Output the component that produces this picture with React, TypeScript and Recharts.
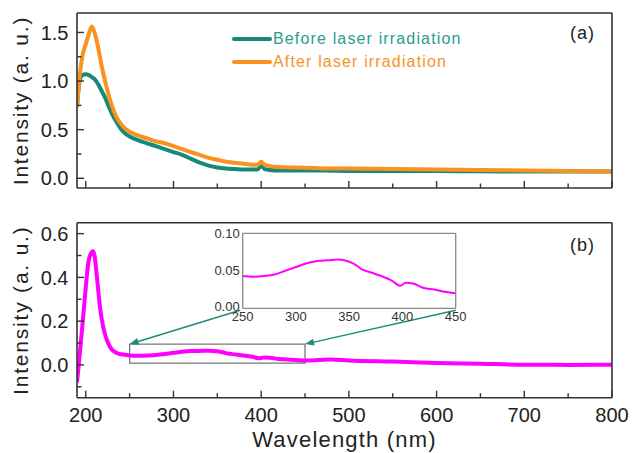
import React from 'react';
import { LineChart, Line, XAxis, YAxis, ReferenceArea, ReferenceLine, Legend } from 'recharts';

// wavelength grid (nm) for panel (a)
const topWavelengths = [
  190, 193, 196, 200, 204, 207, 210, 214, 218, 222,
  226, 230, 235, 240, 245, 250, 260, 270, 280, 290,
  300, 310, 320, 330, 340, 350, 360, 370, 380, 390,
  396, 400, 404, 410, 420, 440, 460, 480, 500, 550,
  600, 650, 700, 750, 800,
];
const beforeIrradiation = [
  0.74, 1.0, 1.06, 1.07, 1.06, 1.04, 1.02, 0.97, 0.9, 0.83,
  0.74, 0.66, 0.58, 0.51, 0.46, 0.43, 0.39, 0.36, 0.33, 0.3,
  0.27, 0.24, 0.2, 0.16, 0.13, 0.11, 0.1, 0.095, 0.09, 0.09,
  0.09, 0.13, 0.095, 0.085, 0.08, 0.08, 0.08, 0.078, 0.076, 0.075,
  0.074, 0.072, 0.07, 0.07, 0.07,
];
const afterIrradiation = [
  0.73, 1.05, 1.25, 1.38, 1.5, 1.56, 1.5, 1.35, 1.16, 1.0,
  0.86, 0.74, 0.63, 0.56, 0.51, 0.48, 0.44, 0.41, 0.38, 0.36,
  0.33, 0.3, 0.27, 0.24, 0.21, 0.19, 0.17, 0.16, 0.15, 0.14,
  0.14, 0.17, 0.14, 0.125, 0.115, 0.11, 0.105, 0.1, 0.1, 0.095,
  0.09, 0.085, 0.08, 0.075, 0.07,
];

// wavelength grid (nm) for panel (b), difference spectrum
const bottomWavelengths = [
  190, 192, 195, 199, 203, 206, 208, 210, 212, 214,
  216, 220, 224, 228, 232, 238, 245, 250, 260, 270,
  280, 290, 300, 310, 320, 330, 340, 350, 356, 362,
  370, 380, 390, 398, 403, 410, 420, 430, 440, 450,
  465, 480, 500, 550, 600, 650, 700, 750, 800,
];
const differenceSpectrum = [
  -0.08, 0.0, 0.13, 0.31, 0.47, 0.51, 0.52, 0.5, 0.43, 0.35,
  0.27, 0.17, 0.115, 0.08, 0.062, 0.05, 0.046, 0.043, 0.042, 0.043,
  0.045, 0.05, 0.055, 0.06, 0.063, 0.064, 0.065, 0.062, 0.058, 0.052,
  0.048, 0.043, 0.037, 0.03, 0.034, 0.033, 0.027, 0.025, 0.022, 0.02,
  0.022, 0.025, 0.02, 0.015, 0.009, 0.005, 0.001, 0.0, 0.001,
];

const xTicks = [200, 250, 300, 350, 400, 450, 500, 550, 600, 650, 700, 750, 800];
const topYTicks = [0, 0.25, 0.5, 0.75, 1.0, 1.25, 1.5];
const topYLabels = [0, 0.5, 1.0, 1.5];
const bottomYTicks = [-0.1, 0, 0.1, 0.2, 0.3, 0.4, 0.5, 0.6];
const bottomYLabels = [0, 0.2, 0.4, 0.6];
const insetXTicks = [250, 300, 350, 400, 450];
const insetYTicks = [0, 0.05, 0.1];

const FONT = '"Liberation Sans", Arial, sans-serif';
const AXIS = '#333';
const TEAL = '#17897b';
const ORANGE = '#f7931e';
const MAGENTA = '#ff00ff';
const ARROW = '#1f8a7e';
const legendText: Record<string, string> = { before: '#2b9c8e', after: '#f7941d' };
const legendOrder = ['before', 'after'];

const topRows = topWavelengths.map((w, i) => ({ w, before: beforeIrradiation[i], after: afterIrradiation[i] }));
const bottomRows = bottomWavelengths.map((w, i) => ({ w, diff: differenceSpectrum[i] }));
const insetRows = bottomRows.filter((r) => r.w >= 250 && r.w <= 450);

const XTick = ({ x, y, payload, showLabel }: any) => {
  const major = payload.value % 100 === 0;
  return (
    <g>
      <line x1={x} x2={x} y1={y} y2={y - (major ? 7 : 4.5)} stroke={AXIS} strokeWidth={1.4} />
      {showLabel && major && (
        <text x={x} y={y + 24.6} textAnchor="middle" fontSize={20} fill="#222" fontFamily={FONT}>
          {payload.value}
        </text>
      )}
    </g>
  );
};

const YTick = ({ x, y, payload, labels }: any) => {
  const major = labels.some((v: number) => Math.abs(v - payload.value) < 1e-6);
  return (
    <g>
      <line x1={x} x2={x + (major ? 7 : 4.5)} y1={y} y2={y} stroke={AXIS} strokeWidth={1.4} />
      {major && (
        <text x={x - 8.5} y={y} dy="0.36em" textAnchor="end" fontSize={20} fill="#222" fontFamily={FONT}>
          {payload.value.toFixed(1)}
        </text>
      )}
    </g>
  );
};

const YTitle = (p: any) => {
  const x = p.viewBox.x - 48;
  const y = p.viewBox.y + p.viewBox.height / 2;
  return (
    <text x={x} y={y} transform={`rotate(-90, ${x}, ${y})`} textAnchor="middle" fontSize={21}
      letterSpacing={1.8} fill="#222" fontFamily={FONT}>
      Intensity (a. u.)
    </text>
  );
};

const PanelTag = (tag: string, dy: number) => (p: any) => (
  <text x={p.viewBox.x + p.viewBox.width - 17} y={p.viewBox.y + dy} textAnchor="end" fontSize={18}
    letterSpacing={1} fill="#222" fontFamily={FONT}>
    {tag}
  </text>
);

const Arrow = (p: any) => {
  const { x1, y1, x2, y2 } = p;
  const a = Math.atan2(y2 - y1, x2 - x1);
  const len = 9;
  const half = 3.5;
  const bx = x2 - len * Math.cos(a);
  const by = y2 - len * Math.sin(a);
  const pts = `${x2},${y2} ${bx - half * Math.sin(a)},${by + half * Math.cos(a)} ${bx + half * Math.sin(a)},${by - half * Math.cos(a)}`;
  return (
    <g>
      <line x1={x1} y1={y1} x2={bx} y2={by} stroke={ARROW} strokeWidth={1.5} />
      <polygon points={pts} fill={ARROW} />
    </g>
  );
};

const LegendBox = ({ payload }: any) => {
  const items = [...(payload || [])].sort(
    (a: any, b: any) => legendOrder.indexOf(a.dataKey) - legendOrder.indexOf(b.dataKey),
  );
  return (
    <div style={{ fontFamily: FONT }}>
      {items.map((entry: any) => (
        <div key={entry.dataKey} style={{ display: 'flex', alignItems: 'center', height: 22.6 }}>
          <span style={{ display: 'inline-block', width: 40, height: 4, borderRadius: 2, background: entry.color }} />
          <span style={{ color: legendText[entry.dataKey], fontSize: 16, letterSpacing: 1.15, marginLeft: 1, whiteSpace: 'nowrap' }}>
            {entry.value}
          </span>
        </div>
      ))}
    </div>
  );
};

const frameLine = { stroke: AXIS, strokeWidth: 1.6 };
const insetLine = { stroke: '#888', strokeWidth: 1.3 };

const App: React.FC = () => {
  return (
    <div style={{ position: 'absolute', left: 0, top: 0, width: 632, height: 453, background: '#fff', fontFamily: FONT }}>
      {/* panel (a) */}
      <div style={{ position: 'absolute', left: 0, top: 0 }}>
        <LineChart width={632} height={196} data={topRows} margin={{ top: 12, right: 19, left: 76, bottom: 7 }}>
          <XAxis dataKey="w" type="number" domain={[190, 800]} allowDataOverflow ticks={xTicks} interval={0}
            height={1} tickSize={0} tickMargin={0} tickLine={false} axisLine={frameLine}
            tick={(p: any) => <XTick {...p} showLabel={false} />} />
          <XAxis xAxisId="frame" dataKey="w" type="number" domain={[190, 800]} allowDataOverflow orientation="top"
            height={1} tick={false} tickLine={false} axisLine={frameLine}
            label={{ content: PanelTag('(a)', 27) }} />
          <YAxis type="number" domain={[-0.1, 1.7]} allowDataOverflow ticks={topYTicks} interval={0} width={1}
            tickSize={0} tickMargin={0} tickLine={false} axisLine={frameLine}
            tick={(p: any) => <YTick {...p} labels={topYLabels} />} label={{ content: YTitle }} />
          <YAxis yAxisId="frame" orientation="right" type="number" domain={[-0.1, 1.7]} width={1}
            tick={false} tickLine={false} axisLine={frameLine} />
          <Legend layout="vertical" align="center" verticalAlign="middle" content={<LegendBox />}
            wrapperStyle={{ left: 232, top: 27.7, width: 300, height: 46 }} />
          <Line dataKey="before" name="Before laser irradiation" type="monotone" stroke={TEAL} strokeWidth={4}
            dot={false} isAnimationActive={false} />
          <Line dataKey="after" name="After laser irradiation" type="monotone" stroke={ORANGE} strokeWidth={4}
            dot={false} isAnimationActive={false} />
        </LineChart>
      </div>

      {/* panel (b) */}
      <div style={{ position: 'absolute', left: 0, top: 200 }}>
        <LineChart width={632} height={253} data={bottomRows} margin={{ top: 21.7, right: 19, left: 76, bottom: 54.3 }}>
          <XAxis dataKey="w" type="number" domain={[190, 800]} allowDataOverflow ticks={xTicks} interval={0}
            height={1} tickSize={0} tickMargin={0} tickLine={false} axisLine={frameLine}
            tick={(p: any) => <XTick {...p} showLabel />}
            label={{
              content: (p: any) => (
                <text x={p.viewBox.x + p.viewBox.width / 2} y={p.viewBox.y + 49} textAnchor="middle" fontSize={22}
                  letterSpacing={1.2} fill="#222" fontFamily={FONT}>
                  Wavelength (nm)
                </text>
              ),
            }} />
          <XAxis xAxisId="frame" dataKey="w" type="number" domain={[190, 800]} allowDataOverflow orientation="top"
            height={1} tick={false} tickLine={false} axisLine={frameLine}
            label={{ content: PanelTag('(b)', 29) }} />
          <YAxis type="number" domain={[-0.15, 0.65]} allowDataOverflow ticks={bottomYTicks} interval={0} width={1}
            tickSize={0} tickMargin={0} tickLine={false} axisLine={frameLine}
            tick={(p: any) => <YTick {...p} labels={bottomYLabels} />} label={{ content: YTitle }} />
          <YAxis yAxisId="frame" orientation="right" type="number" domain={[-0.15, 0.65]} width={1}
            tick={false} tickLine={false} axisLine={frameLine} />
          <Line dataKey="diff" type="monotone" stroke={MAGENTA} strokeWidth={4} dot={false} isAnimationActive={false} />
          <ReferenceArea x1={250} x2={450} y1={0.008} y2={0.095} fill="none" fillOpacity={0} stroke="#777"
            strokeWidth={1.3} ifOverflow="visible" />
          <ReferenceLine segment={[{ x: 376, y: 0.25 }, { x: 250, y: 0.095 }]} shape={Arrow} ifOverflow="visible" />
          <ReferenceLine segment={[{ x: 622, y: 0.25 }, { x: 450, y: 0.095 }]} shape={Arrow} ifOverflow="visible" />
        </LineChart>
      </div>

      {/* inset: zoom of 250-450 nm */}
      <div style={{ position: 'absolute', left: 195, top: 225 }}>
        <LineChart width={295} height={105} data={insetRows} margin={{ top: 7.3, right: 33.3, left: 46.7, bottom: 20.7 }}>
          <XAxis dataKey="w" type="number" domain={[250, 450]} allowDataOverflow ticks={insetXTicks} interval={0}
            height={1} tickSize={0} tickMargin={0} tickLine={false} axisLine={insetLine}
            tick={(p: any) => (
              <text x={p.x} y={p.y + 13} textAnchor="middle" fontSize={13} fill="#333" fontFamily={FONT}>
                {p.payload.value}
              </text>
            )} />
          <XAxis xAxisId="frame" dataKey="w" type="number" domain={[250, 450]} orientation="top" height={1}
            tick={false} tickLine={false} axisLine={insetLine} />
          <YAxis type="number" domain={[0, 0.1]} allowDataOverflow ticks={insetYTicks} interval={0} width={1}
            tickSize={0} tickMargin={0} tickLine={false} axisLine={insetLine}
            tick={(p: any) => (
              <text x={p.x - 3} y={p.y} dy={p.payload.value === 0 ? '0.2em' : '0.36em'} textAnchor="end" fontSize={13}
                fill="#333" fontFamily={FONT}>
                {p.payload.value.toFixed(2)}
              </text>
            )} />
          <YAxis yAxisId="frame" orientation="right" type="number" domain={[0, 0.1]} width={1}
            tick={false} tickLine={false} axisLine={insetLine} />
          <Line dataKey="diff" type="monotone" stroke={MAGENTA} strokeWidth={2} dot={false} isAnimationActive={false} />
        </LineChart>
      </div>
    </div>
  );
};

export default App;
